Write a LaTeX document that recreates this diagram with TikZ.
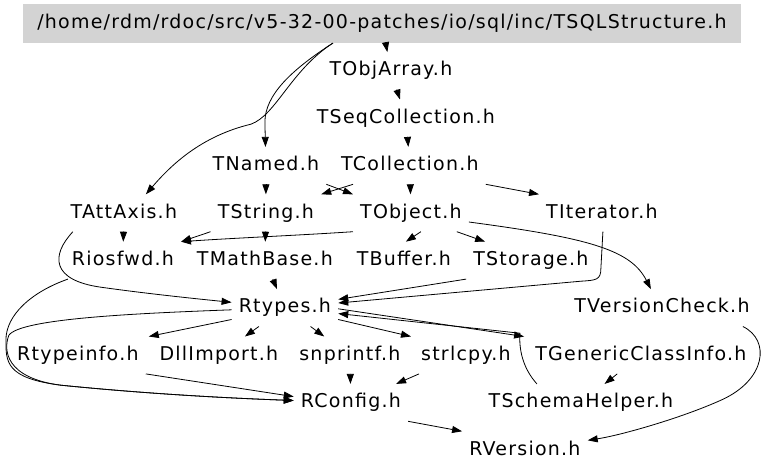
\documentclass[tikz,border=0pt]{standalone}
\usepackage{fontspec}
\setmainfont{DejaVu Sans}[LetterSpace=6.5]
\usepackage{tikz}
\usetikzlibrary{arrows.meta, positioning, calc}
\definecolor{rootgray}{RGB}{211,211,211}

\begin{document}
\begin{tikzpicture}[
    x=1pt, y=-1pt,
    node distance=10pt and 14pt,
    hdr/.style={inner xsep=7pt, inner ysep=9.5pt, text height=14pt, text depth=4pt, font=\fontsize{19pt}{22pt}\selectfont},
    rootbox/.style={hdr, fill=rootgray, minimum width=718pt, minimum height=39.4pt},
    arrow/.style={thick,-{Triangle[length=10pt,width=7pt]}}
]

% Top file
\node (root) [rootbox] at (381,23) {/home/rdm/rdoc/src/v5-32-00-patches/io/sql/inc/TSQLStructure.h};

% Collections
\node (tobjarray) [hdr, below=9pt of root, xshift=9pt] {TObjArray.h};
\node (tseqcollection) [hdr, below=of tobjarray, xshift=15pt] {TSeqCollection.h};
\node (tcollection) [hdr, below=of tseqcollection, xshift=4pt] {TCollection.h};
\node (tnamed) [hdr, below=of tseqcollection, xshift=-140pt] {TNamed.h};

% Base classes
\node (tattaxis) [hdr, below=of tnamed, xshift=-142pt] {TAttAxis.h};
\node (tstring) [hdr, below=of tnamed] {TString.h};
\node (tobject) [hdr, below=of tcollection, xshift=1pt] {TObject.h};
\node (titerator) [hdr, below=of tcollection, xshift=192pt] {TIterator.h};
\node (riosfwd) [hdr, below=of tattaxis, xshift=-1pt] {Riosfwd.h};
\node (tmathbase) [hdr, below=of tstring, xshift=-1pt] {TMathBase.h};
\node (tbuffer) [hdr, below=of tobject, xshift=-7pt] {TBuffer.h};
\node (tstorage) [hdr, below=of tobject, xshift=120pt] {TStorage.h};

% Core headers
\node (rtypes) [hdr, below=of tmathbase, xshift=20pt] {Rtypes.h};
\node (tversioncheck) [hdr, below=of tstorage, xshift=131pt] {TVersionCheck.h};
\node (rtypeinfo) [hdr, below=of rtypes, xshift=-207pt] {Rtypeinfo.h};
\node (dllimport) [hdr, below=of rtypes, xshift=-66pt] {DllImport.h};
\node (snprintf) [hdr, below=of rtypes, xshift=65pt] {snprintf.h};
\node (strlcpy) [hdr, below=of rtypes, xshift=181pt] {strlcpy.h};
\node (tgenericclassinfo) [hdr, below=of tversioncheck, xshift=-21pt] {TGenericClassInfo.h};
\node (rconfig) [hdr, below=of snprintf, xshift=1pt] {RConfig.h};
\node (tschemahelper) [hdr, below=of tgenericclassinfo, xshift=-60pt] {TSchemaHelper.h};
\node (rversion) [hdr, below=of tschemahelper, xshift=-56pt] {RVersion.h};

\useasboundingbox ([shift={(-22.7,-3.3)}]root.north west) rectangle ++(768,469);

% Connections
\draw [arrow] (root) -- (tobjarray);
\draw [arrow] ([xshift=-49pt]root.south) .. controls (290,70) and (264,95) .. (264,122) -- (tnamed);
\draw [arrow] ([xshift=-49pt]root.south) .. controls (290,70) and (275,115) .. (250,124) .. controls (200,136) and (170,165) .. ([xshift=22pt]tattaxis.north);
\draw [arrow] (tobjarray) -- (tseqcollection);
\draw [arrow] (tseqcollection) -- (tcollection);
\draw [arrow] (tnamed) -- (tstring);
\draw [arrow] (tnamed.south east) -- (tobject.north west);
\draw [arrow] ([xshift=19pt]tcollection.south west) -- (tstring.north east);
\draw [arrow] (tcollection) -- (tobject);
\draw [arrow] (tcollection.south east) -- (titerator.north west);
\draw [arrow] (tattaxis) -- (riosfwd);
\draw [arrow] ([xshift=-51pt]tattaxis.south) .. controls (50,255) and (50,280) .. (100,287) .. controls (150,294) and (200,299) .. (rtypes);
\draw [arrow] (tstring.south west) -- (riosfwd.north east);
\draw [arrow] (tstring) -- (tmathbase);
\draw [arrow] (tobject.south west) .. controls (300,235) and (230,238) .. (riosfwd.north east);
\draw [arrow] ([xshift=10pt]tobject.south) -- ([xshift=2pt]tbuffer.north);
\draw [arrow] ([xshift=-12pt]tobject.south east) -- ([xshift=19pt]tstorage.north west);
\draw [arrow] ([yshift=-9pt]tobject.east) .. controls (590,238) and (630,250) .. ([xshift=-11pt]tversioncheck.north);
\draw [arrow] ([xshift=1pt]titerator.south) -- (600,268) .. controls (600,280) and (595,280) .. (580,281) -- (rtypes);
\draw [arrow] (tmathbase) -- (rtypes);
\draw [arrow] (tstorage.south west) -- (rtypes);
\draw [arrow] ([xshift=-44pt]tschemahelper.north) .. controls (522,368) and (518,350) .. (519,333) -- (rtypes);
\draw [arrow] ([xshift=-55pt]riosfwd.south) .. controls (30,292) and (5,315) .. (5,340) .. controls (5,362) and (5,378) .. (60,385) .. controls (150,394) and (230,398) .. (rconfig);
\draw [arrow] ([yshift=-2pt]rtypes.west) .. controls (140,313) and (20,318) .. (8,335) .. controls (2,350) and (5,378) .. (60,385) .. controls (150,394) and (230,398) .. (rconfig);
\draw [arrow] ([yshift=7pt]rtypes.south west) -- ([xshift=3pt]rtypeinfo.north east);
\draw [arrow] (rtypes) -- (dllimport);
\draw [arrow] (rtypes) -- (snprintf);
\draw [arrow] ([yshift=7pt]rtypes.south east) -- ([xshift=-3pt]strlcpy.north west);
\draw [arrow] ([yshift=-1pt]rtypes.east) -- ([xshift=-4pt]tgenericclassinfo.north west);
\draw [arrow] (tgenericclassinfo) -- (tschemahelper);
\draw [arrow] (rtypeinfo.south east) -- ([yshift=6pt]rconfig.west);
\draw [arrow] (snprintf) -- (rconfig);
\draw [arrow] ([xshift=5pt]strlcpy.south west) -- ([xshift=-12pt]rconfig.north east);
\draw [arrow] (rconfig.south east) -- (rversion.north west);
\draw [arrow] ([xshift=81pt]tversioncheck.south) .. controls (770,340) and (765,380) .. (720,400) .. controls (680,418) and (620,435) .. (rversion);

\end{tikzpicture}
\end{document}
